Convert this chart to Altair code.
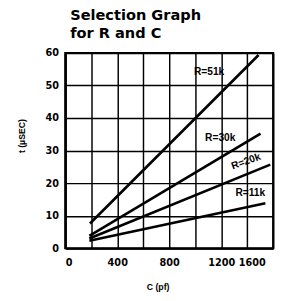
import altair as alt
import pandas as pd

# Line endpoints
series = ["R=51k", "R=30k", "R=20k", "R=11k"]
c_start = [190, 185, 185, 185]
t_start = [7.6, 3.8, 3.0, 2.3]
c_end = [1488, 1503, 1578, 1540]
t_end = [59.4, 35.2, 25.7, 13.8]

# Label positions
label_c = [1107, 1193, 1391, 1424]
label_t = [54, 34, 26.6, 17]
label_angle = [0, 0, 340, 0]

rows = []
for s, c0, t0, c1, t1 in zip(series, c_start, t_start, c_end, t_end):
    rows.append({"R": s, "C": c0, "t": t0})
    rows.append({"R": s, "C": c1, "t": t1})
lines_df = pd.DataFrame(rows)
labels_df = pd.DataFrame({"R": series, "C": label_c, "t": label_t, "angle": label_angle})

x_grid = [0, 200, 400, 600, 800, 1000, 1200, 1400, 1600]
y_grid = [0, 10, 20, 30, 40, 50, 60]

xscale = alt.Scale(domain=[0, 1600], nice=False)
yscale = alt.Scale(domain=[0, 60], nice=False)

lines = alt.Chart(lines_df).mark_line(color="black", strokeWidth=2.7).encode(
    detail="R:N",
)

texts = alt.Chart(labels_df).mark_text(
    font="Liberation Sans", fontWeight="bold", fontSize=10.5, color="black"
).encode(
    text="R:N",
    angle=alt.Angle("angle:Q", scale=None),
)

chart = alt.layer(lines, texts).encode(
    x=alt.X("C:Q", scale=xscale, axis=alt.Axis(
        values=x_grid, title="C (pf)", format="d", labelOverlap=False,
        labelExpr="datum.value % 400 == 0 ? datum.label : ''",
        labelOffset={"condition": {"test": "datum.value == 1600", "value": -8}, "value": 0},
        titleX=95, titleY=40, titleBaseline="middle", titleAlign="center",
        labelPadding=10)),
    y=alt.Y("t:Q", scale=yscale, axis=alt.Axis(
        values=y_grid, title="t (\u00b5SEC)", format="d", labelOverlap=False,
        titleX=-45, titleY=85, titleAngle=270, titleBaseline="middle", titleAlign="center",
        labelPadding=7)),
).properties(
    width=214, height=201,
    autosize=alt.AutoSizeParams(type="none"),
    padding={"left": 59, "top": 42, "right": 5, "bottom": 50},
    title=alt.TitleParams(
        text=["Selection Graph", "for R and C"],
        anchor="start", frame="group", dx=5, offset=-7.5,
        baseline="bottom", lineHeight=19,
        font="DejaVu Sans", fontSize=15, fontWeight="bold", color="black",
    ),
).configure_view(
    stroke="black", strokeWidth=2.2
).configure_axis(
    grid=True, gridColor="black", gridWidth=1.5, gridOpacity=1,
    domainColor="black", domainWidth=2.2, ticks=False,
    labelFont="DejaVu Sans", labelFontSize=10, labelFontWeight="bold", labelColor="black",
    titleFont="Liberation Sans", titleFontSize=9, titleFontWeight="bold", titleColor="black",
)

chart.save("out.html", embed_options={"renderer": "svg", "actions": False})
